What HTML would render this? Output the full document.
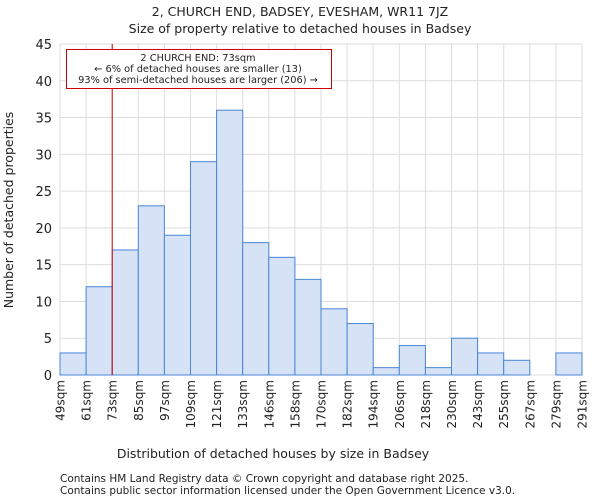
<!DOCTYPE html>
<html><head><meta charset="utf-8"><style>
body{margin:0;background:#fff;font-family:"DejaVu Sans","Liberation Sans",sans-serif;}
svg text{font-family:"DejaVu Sans","Liberation Sans",sans-serif;fill:#222;}
</style></head><body>
<svg id="chart" width="600" height="500" xmlns="http://www.w3.org/2000/svg">
<text x="300" y="16" font-size="12.5" text-anchor="middle">2, CHURCH END, BADSEY, EVESHAM, WR11 7JZ</text>
<text x="300" y="33" font-size="12.5" text-anchor="middle">Size of property relative to detached houses in Badsey</text>
<g id="grid"></g><g id="bars"></g><g id="axes"></g>
<line x1="112.2" y1="44" x2="112.2" y2="375" stroke="#cc0000" stroke-width="1"/>
<g>
<rect x="66.5" y="49.5" width="265" height="39" fill="#fff" stroke="#cc0000" stroke-width="1"/>
<text x="198" y="61" font-size="9.8" text-anchor="middle">2 CHURCH END: 73sqm</text>
<text x="198" y="72" font-size="9.8" text-anchor="middle">← 6% of detached houses are smaller (13)</text>
<text x="198" y="83" font-size="9.8" text-anchor="middle">93% of semi-detached houses are larger (206) →</text>
</g>
<text x="273" y="458" font-size="12.5" text-anchor="middle">Distribution of detached houses by size in Badsey</text>
<text transform="translate(13,210) rotate(-90)" font-size="12.5" text-anchor="middle">Number of detached properties</text>
<text x="60" y="482" font-size="10.5" fill="#444">Contains HM Land Registry data © Crown copyright and database right 2025.</text>
<text x="60" y="494" font-size="10.5" fill="#444">Contains public sector information licensed under the Open Government Licence v3.0.</text>
</svg>
<script>
const categories=["49sqm","61sqm","73sqm","85sqm","97sqm","109sqm","121sqm","133sqm","146sqm","158sqm","170sqm","182sqm","194sqm","206sqm","218sqm","230sqm","243sqm","255sqm","267sqm","279sqm","291sqm"];
const counts=[3,12,17,23,19,29,36,18,16,13,9,7,1,4,1,5,3,2,0,3];
const yTicks=[0,5,10,15,20,25,30,35,40,45];
const NS="http://www.w3.org/2000/svg";
const X0=60,X1=582,Y0=375,Y1=44,YMAX=45;
const bw=(X1-X0)/counts.length;
const xPos=i=>X0+i*bw;
const yPos=v=>Y0-(v/YMAX)*(Y0-Y1);
function mk(tag,attrs,parent){const e=document.createElementNS(NS,tag);for(const k in attrs)e.setAttribute(k,attrs[k]);parent.appendChild(e);return e;}
const grid=document.getElementById('grid'),bars=document.getElementById('bars'),axes=document.getElementById('axes');
yTicks.forEach(t=>{
 const l=mk('line',{x1:X0,x2:X1,y1:yPos(t),y2:yPos(t),stroke:'#dddddd','stroke-width':1},grid);
 
 
 const tx=mk('text',{x:X0-8,y:yPos(t)+5,'font-size':13,'text-anchor':'end'},axes);
 tx.textContent=t;
 
 
});
categories.forEach((c,i)=>{
 const x=xPos(i);
 const l=mk('line',{x1:x,x2:x,y1:Y1,y2:Y0,stroke:'#dddddd','stroke-width':1},grid);
 
 
 const tx=mk('text',{transform:`translate(${x+4.5},380) rotate(-90)`,'font-size':12,'text-anchor':'end'},axes);
 tx.textContent=c;
 
 
});
counts.forEach((v,i)=>{
 if(v<=0)return;
 const r=mk('rect',{x:xPos(i),y:yPos(v),width:bw,height:Y0-yPos(v),fill:'#d6e2f5',stroke:'#4a86d8','stroke-width':1},bars);
 
 
});
</script>
</body></html>
